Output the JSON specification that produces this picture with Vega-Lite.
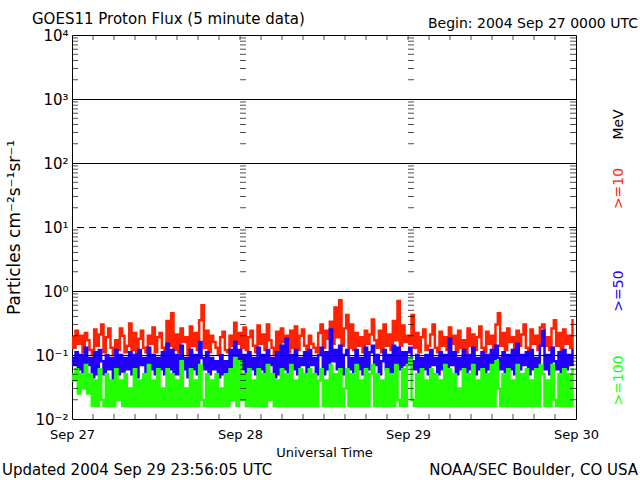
{
  "$schema": "https://vega.github.io/schema/vega-lite/v6.json",
  "width": 504,
  "height": 384,
  "autosize": "none",
  "padding": {"left": 72, "top": 35, "right": 64, "bottom": 61},
  "background": "white",
  "config": {
    "view": {"stroke": "black", "strokeWidth": 1},
    "font": "DejaVu Sans",
    "axis": {"grid": false, "domain": false, "ticks": false, "labelOverlap": false, "labelFlush": false, "titleFontWeight": "normal", "labelColor": "black", "titleColor": "black"},
    "text": {"font": "DejaVu Sans", "fontSize": 15, "color": "black"}
  },
  "datasets": {
    "minor": [
      {"v": 0.02}, {"v": 0.03}, {"v": 0.04}, {"v": 0.05}, {"v": 0.06}, {"v": 0.07}, {"v": 0.08}, {"v": 0.09},
      {"v": 0.2}, {"v": 0.3}, {"v": 0.4}, {"v": 0.5}, {"v": 0.6}, {"v": 0.7}, {"v": 0.8}, {"v": 0.9},
      {"v": 2}, {"v": 3}, {"v": 4}, {"v": 5}, {"v": 6}, {"v": 7}, {"v": 8}, {"v": 9},
      {"v": 20}, {"v": 30}, {"v": 40}, {"v": 50}, {"v": 60}, {"v": 70}, {"v": 80}, {"v": 90},
      {"v": 200}, {"v": 300}, {"v": 400}, {"v": 500}, {"v": 600}, {"v": 700}, {"v": 800}, {"v": 900},
      {"v": 2000}, {"v": 3000}, {"v": 4000}, {"v": 5000}, {"v": 6000}, {"v": 7000}, {"v": 8000}, {"v": 9000}
    ],
    "hours": [
      {"t": "2004-09-27T03:00"}, {"t": "2004-09-27T06:00"}, {"t": "2004-09-27T09:00"}, {"t": "2004-09-27T12:00"},
      {"t": "2004-09-27T15:00"}, {"t": "2004-09-27T18:00"}, {"t": "2004-09-27T21:00"}, {"t": "2004-09-28T00:00"},
      {"t": "2004-09-28T03:00"}, {"t": "2004-09-28T06:00"}, {"t": "2004-09-28T09:00"}, {"t": "2004-09-28T12:00"},
      {"t": "2004-09-28T15:00"}, {"t": "2004-09-28T18:00"}, {"t": "2004-09-28T21:00"}, {"t": "2004-09-29T00:00"},
      {"t": "2004-09-29T03:00"}, {"t": "2004-09-29T06:00"}, {"t": "2004-09-29T09:00"}, {"t": "2004-09-29T12:00"},
      {"t": "2004-09-29T15:00"}, {"t": "2004-09-29T18:00"}, {"t": "2004-09-29T21:00"}
    ]
  },
  "data": {"values": [
    {"t": "2004-09-27T00:00", "a": 0.19, "b": 0.09, "c": 0.05},
    {"t": "2004-09-27T00:20", "a": 0.13, "b": 0.07, "c": 0.04},
    {"t": "2004-09-27T00:40", "a": 0.24, "b": 0.11, "c": 0.06},
    {"t": "2004-09-27T01:00", "a": 0.15, "b": 0.06, "c": 0.025},
    {"t": "2004-09-27T01:20", "a": 0.2, "b": 0.1, "c": 0.05},
    {"t": "2004-09-27T01:40", "a": 0.11, "b": 0.05, "c": 0.03},
    {"t": "2004-09-27T02:00", "a": 0.22, "b": 0.13, "c": 0.07},
    {"t": "2004-09-27T02:20", "a": 0.17, "b": 0.07, "c": 0.025},
    {"t": "2004-09-27T02:40", "a": 0.12, "b": 0.09, "c": 0.05},
    {"t": "2004-09-27T03:00", "a": 0.1, "b": 0.045, "c": 0.016},
    {"t": "2004-09-27T03:20", "a": 0.25, "b": 0.11, "c": 0.04},
    {"t": "2004-09-27T03:40", "a": 0.14, "b": 0.05, "c": 0.016},
    {"t": "2004-09-27T04:00", "a": 0.21, "b": 0.12, "c": 0.06},
    {"t": "2004-09-27T04:20", "a": 0.3, "b": 0.08, "c": 0.02},
    {"t": "2004-09-27T04:40", "a": 0.11, "b": 0.05, "c": 0.016},
    {"t": "2004-09-27T05:00", "a": 0.19, "b": 0.1, "c": 0.05},
    {"t": "2004-09-27T05:20", "a": 0.26, "b": 0.06, "c": 0.016},
    {"t": "2004-09-27T05:40", "a": 0.13, "b": 0.09, "c": 0.04},
    {"t": "2004-09-27T06:00", "a": 0.1, "b": 0.04, "c": 0.016},
    {"t": "2004-09-27T06:20", "a": 0.17, "b": 0.12, "c": 0.06},
    {"t": "2004-09-27T06:40", "a": 0.12, "b": 0.05, "c": 0.02},
    {"t": "2004-09-27T07:00", "a": 0.26, "b": 0.1, "c": 0.04},
    {"t": "2004-09-27T07:20", "a": 0.2, "b": 0.055, "c": 0.016},
    {"t": "2004-09-27T07:40", "a": 0.11, "b": 0.09, "c": 0.05},
    {"t": "2004-09-27T08:00", "a": 0.14, "b": 0.06, "c": 0.016},
    {"t": "2004-09-27T08:20", "a": 0.31, "b": 0.11, "c": 0.03},
    {"t": "2004-09-27T08:40", "a": 0.12, "b": 0.05, "c": 0.016},
    {"t": "2004-09-27T09:00", "a": 0.22, "b": 0.1, "c": 0.06},
    {"t": "2004-09-27T09:20", "a": 0.1, "b": 0.045, "c": 0.016},
    {"t": "2004-09-27T09:40", "a": 0.18, "b": 0.12, "c": 0.04},
    {"t": "2004-09-27T10:00", "a": 0.24, "b": 0.07, "c": 0.016},
    {"t": "2004-09-27T10:20", "a": 0.13, "b": 0.09, "c": 0.05},
    {"t": "2004-09-27T10:40", "a": 0.11, "b": 0.05, "c": 0.016},
    {"t": "2004-09-27T11:00", "a": 0.2, "b": 0.13, "c": 0.07},
    {"t": "2004-09-27T11:20", "a": 0.15, "b": 0.06, "c": 0.016},
    {"t": "2004-09-27T11:40", "a": 0.27, "b": 0.1, "c": 0.04},
    {"t": "2004-09-27T12:00", "a": 0.11, "b": 0.05, "c": 0.016},
    {"t": "2004-09-27T12:20", "a": 0.19, "b": 0.09, "c": 0.06},
    {"t": "2004-09-27T12:40", "a": 0.22, "b": 0.06, "c": 0.016},
    {"t": "2004-09-27T13:00", "a": 0.13, "b": 0.11, "c": 0.03},
    {"t": "2004-09-27T13:20", "a": 0.12, "b": 0.05, "c": 0.016},
    {"t": "2004-09-27T13:40", "a": 0.34, "b": 0.15, "c": 0.06},
    {"t": "2004-09-27T14:00", "a": 0.14, "b": 0.06, "c": 0.016},
    {"t": "2004-09-27T14:20", "a": 0.45, "b": 0.12, "c": 0.05},
    {"t": "2004-09-27T14:40", "a": 0.12, "b": 0.05, "c": 0.016},
    {"t": "2004-09-27T15:00", "a": 0.21, "b": 0.1, "c": 0.04},
    {"t": "2004-09-27T15:20", "a": 0.11, "b": 0.05, "c": 0.016},
    {"t": "2004-09-27T15:40", "a": 0.26, "b": 0.14, "c": 0.08},
    {"t": "2004-09-27T16:00", "a": 0.16, "b": 0.06, "c": 0.016},
    {"t": "2004-09-27T16:20", "a": 0.19, "b": 0.09, "c": 0.03},
    {"t": "2004-09-27T16:40", "a": 0.1, "b": 0.045, "c": 0.016},
    {"t": "2004-09-27T17:00", "a": 0.28, "b": 0.12, "c": 0.06},
    {"t": "2004-09-27T17:20", "a": 0.14, "b": 0.06, "c": 0.016},
    {"t": "2004-09-27T17:40", "a": 0.22, "b": 0.1, "c": 0.04},
    {"t": "2004-09-27T18:00", "a": 0.12, "b": 0.05, "c": 0.016},
    {"t": "2004-09-27T18:20", "a": 0.35, "b": 0.16, "c": 0.07},
    {"t": "2004-09-27T18:40", "a": 0.6, "b": 0.09, "c": 0.02},
    {"t": "2004-09-27T19:00", "a": 0.13, "b": 0.06, "c": 0.016},
    {"t": "2004-09-27T19:20", "a": 0.24, "b": 0.11, "c": 0.05},
    {"t": "2004-09-27T19:40", "a": 0.11, "b": 0.05, "c": 0.016},
    {"t": "2004-09-27T20:00", "a": 0.2, "b": 0.09, "c": 0.04},
    {"t": "2004-09-27T20:20", "a": 0.16, "b": 0.06, "c": 0.016},
    {"t": "2004-09-27T20:40", "a": 0.13, "b": 0.08, "c": 0.05},
    {"t": "2004-09-27T21:00", "a": 0.1, "b": 0.045, "c": 0.016},
    {"t": "2004-09-27T21:20", "a": 0.19, "b": 0.1, "c": 0.03},
    {"t": "2004-09-27T21:40", "a": 0.23, "b": 0.05, "c": 0.016},
    {"t": "2004-09-27T22:00", "a": 0.12, "b": 0.08, "c": 0.05},
    {"t": "2004-09-27T22:20", "a": 0.11, "b": 0.05, "c": 0.016},
    {"t": "2004-09-27T22:40", "a": 0.2, "b": 0.12, "c": 0.06},
    {"t": "2004-09-27T23:00", "a": 0.14, "b": 0.06, "c": 0.02},
    {"t": "2004-09-27T23:20", "a": 0.32, "b": 0.16, "c": 0.09},
    {"t": "2004-09-27T23:40", "a": 0.15, "b": 0.07, "c": 0.016},
    {"t": "2004-09-28T00:00", "a": 0.22, "b": 0.12, "c": 0.08},
    {"t": "2004-09-28T00:20", "a": 0.13, "b": 0.06, "c": 0.02},
    {"t": "2004-09-28T00:40", "a": 0.27, "b": 0.1, "c": 0.05},
    {"t": "2004-09-28T01:00", "a": 0.12, "b": 0.05, "c": 0.016},
    {"t": "2004-09-28T01:20", "a": 0.19, "b": 0.11, "c": 0.06},
    {"t": "2004-09-28T01:40", "a": 0.24, "b": 0.06, "c": 0.016},
    {"t": "2004-09-28T02:00", "a": 0.14, "b": 0.09, "c": 0.04},
    {"t": "2004-09-28T02:20", "a": 0.11, "b": 0.05, "c": 0.016},
    {"t": "2004-09-28T02:40", "a": 0.29, "b": 0.13, "c": 0.06},
    {"t": "2004-09-28T03:00", "a": 0.15, "b": 0.06, "c": 0.016},
    {"t": "2004-09-28T03:20", "a": 0.21, "b": 0.1, "c": 0.05},
    {"t": "2004-09-28T03:40", "a": 0.12, "b": 0.05, "c": 0.016},
    {"t": "2004-09-28T04:00", "a": 0.3, "b": 0.12, "c": 0.07},
    {"t": "2004-09-28T04:20", "a": 0.17, "b": 0.07, "c": 0.02},
    {"t": "2004-09-28T04:40", "a": 0.13, "b": 0.09, "c": 0.05},
    {"t": "2004-09-28T05:00", "a": 0.1, "b": 0.045, "c": 0.016},
    {"t": "2004-09-28T05:20", "a": 0.23, "b": 0.11, "c": 0.04},
    {"t": "2004-09-28T05:40", "a": 0.12, "b": 0.05, "c": 0.016},
    {"t": "2004-09-28T06:00", "a": 0.26, "b": 0.14, "c": 0.06},
    {"t": "2004-09-28T06:20", "a": 0.16, "b": 0.06, "c": 0.016},
    {"t": "2004-09-28T06:40", "a": 0.2, "b": 0.18, "c": 0.05},
    {"t": "2004-09-28T07:00", "a": 0.11, "b": 0.05, "c": 0.016},
    {"t": "2004-09-28T07:20", "a": 0.24, "b": 0.1, "c": 0.07},
    {"t": "2004-09-28T07:40", "a": 0.13, "b": 0.06, "c": 0.016},
    {"t": "2004-09-28T08:00", "a": 0.28, "b": 0.12, "c": 0.04},
    {"t": "2004-09-28T08:20", "a": 0.12, "b": 0.05, "c": 0.016},
    {"t": "2004-09-28T08:40", "a": 0.2, "b": 0.09, "c": 0.06},
    {"t": "2004-09-28T09:00", "a": 0.25, "b": 0.07, "c": 0.016},
    {"t": "2004-09-28T09:20", "a": 0.14, "b": 0.11, "c": 0.05},
    {"t": "2004-09-28T09:40", "a": 0.11, "b": 0.05, "c": 0.016},
    {"t": "2004-09-28T10:00", "a": 0.2, "b": 0.12, "c": 0.06},
    {"t": "2004-09-28T10:20", "a": 0.15, "b": 0.07, "c": 0.016},
    {"t": "2004-09-28T10:40", "a": 0.13, "b": 0.09, "c": 0.05},
    {"t": "2004-09-28T11:00", "a": 0.11, "b": 0.05, "c": 0.016},
    {"t": "2004-09-28T11:20", "a": 0.22, "b": 0.1, "c": 0.04},
    {"t": "2004-09-28T11:40", "a": 0.3, "b": 0.13, "c": 0.06},
    {"t": "2004-09-28T12:00", "a": 0.13, "b": 0.05, "c": 0.016},
    {"t": "2004-09-28T12:20", "a": 0.24, "b": 0.11, "c": 0.04},
    {"t": "2004-09-28T12:40", "a": 0.18, "b": 0.06, "c": 0.016},
    {"t": "2004-09-28T13:00", "a": 0.33, "b": 0.25, "c": 0.07},
    {"t": "2004-09-28T13:20", "a": 0.15, "b": 0.08, "c": 0.016},
    {"t": "2004-09-28T13:40", "a": 0.55, "b": 0.12, "c": 0.05},
    {"t": "2004-09-28T14:00", "a": 0.19, "b": 0.06, "c": 0.016},
    {"t": "2004-09-28T14:20", "a": 0.72, "b": 0.14, "c": 0.06},
    {"t": "2004-09-28T14:40", "a": 0.14, "b": 0.05, "c": 0.016},
    {"t": "2004-09-28T15:00", "a": 0.26, "b": 0.1, "c": 0.03},
    {"t": "2004-09-28T15:20", "a": 0.42, "b": 0.12, "c": 0.06},
    {"t": "2004-09-28T15:40", "a": 0.13, "b": 0.06, "c": 0.016},
    {"t": "2004-09-28T16:00", "a": 0.3, "b": 0.09, "c": 0.05},
    {"t": "2004-09-28T16:20", "a": 0.12, "b": 0.05, "c": 0.016},
    {"t": "2004-09-28T16:40", "a": 0.22, "b": 0.12, "c": 0.07},
    {"t": "2004-09-28T17:00", "a": 0.14, "b": 0.06, "c": 0.016},
    {"t": "2004-09-28T17:20", "a": 0.19, "b": 0.09, "c": 0.04},
    {"t": "2004-09-28T17:40", "a": 0.11, "b": 0.05, "c": 0.016},
    {"t": "2004-09-28T18:00", "a": 0.24, "b": 0.13, "c": 0.06},
    {"t": "2004-09-28T18:20", "a": 0.15, "b": 0.06, "c": 0.016},
    {"t": "2004-09-28T18:40", "a": 0.21, "b": 0.11, "c": 0.05},
    {"t": "2004-09-28T19:00", "a": 0.36, "b": 0.14, "c": 0.07},
    {"t": "2004-09-28T19:20", "a": 0.17, "b": 0.07, "c": 0.016},
    {"t": "2004-09-28T19:40", "a": 0.13, "b": 0.1, "c": 0.05},
    {"t": "2004-09-28T20:00", "a": 0.24, "b": 0.05, "c": 0.016},
    {"t": "2004-09-28T20:20", "a": 0.11, "b": 0.08, "c": 0.04},
    {"t": "2004-09-28T20:40", "a": 0.3, "b": 0.12, "c": 0.016},
    {"t": "2004-09-28T21:00", "a": 0.14, "b": 0.06, "c": 0.06},
    {"t": "2004-09-28T21:20", "a": 0.21, "b": 0.1, "c": 0.016},
    {"t": "2004-09-28T21:40", "a": 0.12, "b": 0.05, "c": 0.05},
    {"t": "2004-09-28T22:00", "a": 0.34, "b": 0.14, "c": 0.016},
    {"t": "2004-09-28T22:20", "a": 0.17, "b": 0.07, "c": 0.07},
    {"t": "2004-09-28T22:40", "a": 0.7, "b": 0.13, "c": 0.02},
    {"t": "2004-09-28T23:00", "a": 0.14, "b": 0.06, "c": 0.016},
    {"t": "2004-09-28T23:20", "a": 0.29, "b": 0.11, "c": 0.06},
    {"t": "2004-09-28T23:40", "a": 0.16, "b": 0.07, "c": 0.016},
    {"t": "2004-09-29T00:00", "a": 0.2, "b": 0.11, "c": 0.07},
    {"t": "2004-09-29T00:20", "a": 0.15, "b": 0.13, "c": 0.09},
    {"t": "2004-09-29T00:40", "a": 0.42, "b": 0.08, "c": 0.02},
    {"t": "2004-09-29T01:00", "a": 0.13, "b": 0.06, "c": 0.016},
    {"t": "2004-09-29T01:20", "a": 0.22, "b": 0.1, "c": 0.05},
    {"t": "2004-09-29T01:40", "a": 0.11, "b": 0.05, "c": 0.016},
    {"t": "2004-09-29T02:00", "a": 0.19, "b": 0.09, "c": 0.06},
    {"t": "2004-09-29T02:20", "a": 0.25, "b": 0.06, "c": 0.016},
    {"t": "2004-09-29T02:40", "a": 0.12, "b": 0.1, "c": 0.04},
    {"t": "2004-09-29T03:00", "a": 0.14, "b": 0.05, "c": 0.016},
    {"t": "2004-09-29T03:20", "a": 0.21, "b": 0.12, "c": 0.06},
    {"t": "2004-09-29T03:40", "a": 0.3, "b": 0.07, "c": 0.016},
    {"t": "2004-09-29T04:00", "a": 0.13, "b": 0.09, "c": 0.05},
    {"t": "2004-09-29T04:20", "a": 0.11, "b": 0.05, "c": 0.016},
    {"t": "2004-09-29T04:40", "a": 0.23, "b": 0.11, "c": 0.04},
    {"t": "2004-09-29T05:00", "a": 0.14, "b": 0.06, "c": 0.016},
    {"t": "2004-09-29T05:20", "a": 0.19, "b": 0.1, "c": 0.07},
    {"t": "2004-09-29T05:40", "a": 0.12, "b": 0.05, "c": 0.016},
    {"t": "2004-09-29T06:00", "a": 0.27, "b": 0.18, "c": 0.06},
    {"t": "2004-09-29T06:20", "a": 0.15, "b": 0.07, "c": 0.016},
    {"t": "2004-09-29T06:40", "a": 0.2, "b": 0.11, "c": 0.05},
    {"t": "2004-09-29T07:00", "a": 0.11, "b": 0.05, "c": 0.016},
    {"t": "2004-09-29T07:20", "a": 0.24, "b": 0.09, "c": 0.03},
    {"t": "2004-09-29T07:40", "a": 0.13, "b": 0.06, "c": 0.016},
    {"t": "2004-09-29T08:00", "a": 0.17, "b": 0.12, "c": 0.06},
    {"t": "2004-09-29T08:20", "a": 0.1, "b": 0.045, "c": 0.016},
    {"t": "2004-09-29T08:40", "a": 0.26, "b": 0.1, "c": 0.05},
    {"t": "2004-09-29T09:00", "a": 0.14, "b": 0.06, "c": 0.016},
    {"t": "2004-09-29T09:20", "a": 0.21, "b": 0.13, "c": 0.07},
    {"t": "2004-09-29T09:40", "a": 0.12, "b": 0.05, "c": 0.016},
    {"t": "2004-09-29T10:00", "a": 0.19, "b": 0.09, "c": 0.04},
    {"t": "2004-09-29T10:20", "a": 0.28, "b": 0.06, "c": 0.016},
    {"t": "2004-09-29T10:40", "a": 0.13, "b": 0.11, "c": 0.06},
    {"t": "2004-09-29T11:00", "a": 0.11, "b": 0.05, "c": 0.016},
    {"t": "2004-09-29T11:20", "a": 0.23, "b": 0.1, "c": 0.05},
    {"t": "2004-09-29T11:40", "a": 0.15, "b": 0.06, "c": 0.016},
    {"t": "2004-09-29T12:00", "a": 0.2, "b": 0.12, "c": 0.07},
    {"t": "2004-09-29T12:20", "a": 0.12, "b": 0.05, "c": 0.016},
    {"t": "2004-09-29T12:40", "a": 0.3, "b": 0.14, "c": 0.08},
    {"t": "2004-09-29T13:00", "a": 0.45, "b": 0.09, "c": 0.03},
    {"t": "2004-09-29T13:20", "a": 0.14, "b": 0.06, "c": 0.016},
    {"t": "2004-09-29T13:40", "a": 0.22, "b": 0.11, "c": 0.05},
    {"t": "2004-09-29T14:00", "a": 0.12, "b": 0.05, "c": 0.016},
    {"t": "2004-09-29T14:20", "a": 0.26, "b": 0.1, "c": 0.06},
    {"t": "2004-09-29T14:40", "a": 0.16, "b": 0.06, "c": 0.016},
    {"t": "2004-09-29T15:00", "a": 0.19, "b": 0.12, "c": 0.04},
    {"t": "2004-09-29T15:20", "a": 0.11, "b": 0.05, "c": 0.016},
    {"t": "2004-09-29T15:40", "a": 0.24, "b": 0.15, "c": 0.07},
    {"t": "2004-09-29T16:00", "a": 0.14, "b": 0.06, "c": 0.016},
    {"t": "2004-09-29T16:20", "a": 0.21, "b": 0.1, "c": 0.05},
    {"t": "2004-09-29T16:40", "a": 0.3, "b": 0.07, "c": 0.016},
    {"t": "2004-09-29T17:00", "a": 0.13, "b": 0.11, "c": 0.06},
    {"t": "2004-09-29T17:20", "a": 0.11, "b": 0.05, "c": 0.016},
    {"t": "2004-09-29T17:40", "a": 0.25, "b": 0.12, "c": 0.04},
    {"t": "2004-09-29T18:00", "a": 0.15, "b": 0.06, "c": 0.016},
    {"t": "2004-09-29T18:20", "a": 0.2, "b": 0.09, "c": 0.06},
    {"t": "2004-09-29T18:40", "a": 0.12, "b": 0.05, "c": 0.016},
    {"t": "2004-09-29T19:00", "a": 0.27, "b": 0.14, "c": 0.07},
    {"t": "2004-09-29T19:20", "a": 0.3, "b": 0.24, "c": 0.05},
    {"t": "2004-09-29T19:40", "a": 0.14, "b": 0.06, "c": 0.016},
    {"t": "2004-09-29T20:00", "a": 0.19, "b": 0.1, "c": 0.04},
    {"t": "2004-09-29T20:20", "a": 0.12, "b": 0.05, "c": 0.016},
    {"t": "2004-09-29T20:40", "a": 0.26, "b": 0.13, "c": 0.07},
    {"t": "2004-09-29T21:00", "a": 0.35, "b": 0.08, "c": 0.02},
    {"t": "2004-09-29T21:20", "a": 0.14, "b": 0.06, "c": 0.016},
    {"t": "2004-09-29T21:40", "a": 0.22, "b": 0.11, "c": 0.05},
    {"t": "2004-09-29T22:00", "a": 0.12, "b": 0.05, "c": 0.016},
    {"t": "2004-09-29T22:20", "a": 0.25, "b": 0.12, "c": 0.06},
    {"t": "2004-09-29T22:40", "a": 0.15, "b": 0.06, "c": 0.016},
    {"t": "2004-09-29T23:00", "a": 0.2, "b": 0.1, "c": 0.05},
    {"t": "2004-09-29T23:20", "a": 0.13, "b": 0.07, "c": 0.016},
    {"t": "2004-09-29T23:40", "a": 0.35, "b": 0.12, "c": 0.06}
  ]},
  "layer": [
    {
      "mark": {"type": "line", "color": "#ff2200", "strokeWidth": 2.5, "interpolate": "step"},
      "encoding": {
        "x": {
          "field": "t",
          "type": "temporal",
          "scale": {"domain": [{"year": 2004, "month": 9, "date": 27}, {"year": 2004, "month": 9, "date": 30}]},
          "axis": {
            "values": [
              {"year": 2004, "month": 9, "date": 27},
              {"year": 2004, "month": 9, "date": 28},
              {"year": 2004, "month": 9, "date": 29},
              {"year": 2004, "month": 9, "date": 30}
            ],
            "format": "%b %d",
            "labelPadding": 9,
            "labelFontSize": 13,
            "labelBaseline": "top",
            "title": "Universal Time",
            "titleFontSize": 13,
            "titleX": 252,
            "titleY": 37,
            "titleAlign": "center",
            "titleBaseline": "alphabetic"
          }
        },
        "y": {
          "field": "a",
          "type": "quantitative",
          "scale": {"type": "log", "domain": [0.01, 10000]},
          "axis": {
            "values": [0.01, 0.1, 1, 10, 100, 1000, 10000],
            "labelPadding": 4,
            "labelFontSize": 15,
            "labelExpr": "datum.value == 10000 ? '10⁴' : datum.value == 1000 ? '10³' : datum.value == 100 ? '10²' : datum.value == 10 ? '10¹' : datum.value == 1 ? '10⁰' : datum.value == 0.1 ? '10⁻¹' : '10⁻²'",
            "title": "Particles cm⁻²s⁻¹sr⁻¹",
            "titleFontSize": 17,
            "titleAngle": 270,
            "titleX": -58,
            "titleY": 192,
            "titleAlign": "center",
            "titleBaseline": "middle"
          }
        }
      }
    },
    {
      "mark": {"type": "line", "color": "#2200ff", "strokeWidth": 2.5, "interpolate": "step"},
      "encoding": {
        "x": {"field": "t", "type": "temporal"},
        "y": {"field": "b", "type": "quantitative", "scale": {"type": "log"}}
      }
    },
    {
      "mark": {"type": "line", "color": "#22ff00", "strokeWidth": 2.5, "interpolate": "step"},
      "encoding": {
        "x": {"field": "t", "type": "temporal"},
        "y": {"field": "c", "type": "quantitative", "scale": {"type": "log"}}
      }
    },
    {
      "data": {"values": [{"v": 1000}, {"v": 100}, {"v": 1}, {"v": 0.1}]},
      "mark": {"type": "rule", "color": "black", "strokeWidth": 1, "yOffset": 0.5},
      "encoding": {
        "y": {"field": "v", "type": "quantitative", "scale": {"type": "log"}}
      }
    },
    {
      "data": {"values": [{"v": 10}]},
      "mark": {"type": "rule", "color": "black", "strokeWidth": 1, "yOffset": 0.5, "strokeDash": [7, 5]},
      "encoding": {
        "y": {"field": "v", "type": "quantitative", "scale": {"type": "log"}}
      }
    },
    {
      "data": {"name": "minor"},
      "mark": {"type": "tick", "orient": "horizontal", "color": "black", "size": 6, "thickness": 1, "xOffset": 3},
      "encoding": {
        "x": {"datum": {"year": 2004, "month": 9, "date": 27}, "type": "temporal"},
        "y": {"field": "v", "type": "quantitative", "scale": {"type": "log"}}
      }
    },
    {
      "data": {"name": "minor"},
      "mark": {"type": "tick", "orient": "horizontal", "color": "black", "size": 6, "thickness": 1, "xOffset": 3},
      "encoding": {
        "x": {"datum": {"year": 2004, "month": 9, "date": 28}, "type": "temporal"},
        "y": {"field": "v", "type": "quantitative", "scale": {"type": "log"}}
      }
    },
    {
      "data": {"name": "minor"},
      "mark": {"type": "tick", "orient": "horizontal", "color": "black", "size": 6, "thickness": 1, "xOffset": 3},
      "encoding": {
        "x": {"datum": {"year": 2004, "month": 9, "date": 29}, "type": "temporal"},
        "y": {"field": "v", "type": "quantitative", "scale": {"type": "log"}}
      }
    },
    {
      "data": {"name": "minor"},
      "mark": {"type": "tick", "orient": "horizontal", "color": "black", "size": 6, "thickness": 1, "xOffset": -3},
      "encoding": {
        "x": {"datum": {"year": 2004, "month": 9, "date": 30}, "type": "temporal"},
        "y": {"field": "v", "type": "quantitative", "scale": {"type": "log"}}
      }
    },
    {
      "data": {"name": "hours"},
      "mark": {"type": "tick", "orient": "vertical", "color": "black", "size": 5, "thickness": 1, "yOffset": -2.5},
      "encoding": {
        "x": {"field": "t", "type": "temporal"},
        "y": {"datum": 0.01, "type": "quantitative", "scale": {"type": "log"}}
      }
    },
    {
      "data": {"name": "hours"},
      "mark": {"type": "tick", "orient": "vertical", "color": "black", "size": 5, "thickness": 1, "yOffset": 2.5},
      "encoding": {
        "x": {"field": "t", "type": "temporal"},
        "y": {"datum": 10000, "type": "quantitative", "scale": {"type": "log"}}
      }
    },
    {
      "data": {"values": [
        {"s": "MeV", "v": 400},
        {"s": ">=10", "v": 40},
        {"s": ">=50", "v": 1},
        {"s": ">=100", "v": 0.04}
      ]},
      "mark": {"type": "text", "angle": 270, "align": "center", "baseline": "middle", "fontSize": 14, "dy": 43},
      "encoding": {
        "x": {"datum": {"year": 2004, "month": 9, "date": 30}, "type": "temporal"},
        "y": {"field": "v", "type": "quantitative", "scale": {"type": "log"}},
        "text": {"field": "s"},
        "color": {
          "field": "s",
          "type": "nominal",
          "scale": {"domain": ["MeV", ">=10", ">=50", ">=100"], "range": ["black", "#ff2200", "#2200ff", "#22ff00"]},
          "legend": null
        }
      }
    },
    {
      "data": {"values": [{"s": "GOES11 Proton Flux (5 minute data)"}]},
      "mark": {"type": "text", "align": "left", "baseline": "alphabetic", "dx": -40, "dy": -11},
      "encoding": {
        "x": {"datum": {"year": 2004, "month": 9, "date": 27}, "type": "temporal"},
        "y": {"datum": 10000, "type": "quantitative", "scale": {"type": "log"}},
        "text": {"field": "s"}
      }
    },
    {
      "data": {"values": [{"s": "Begin: 2004 Sep 27 0000 UTC"}]},
      "mark": {"type": "text", "align": "right", "baseline": "alphabetic", "fontSize": 14, "dx": 62, "dy": -7},
      "encoding": {
        "x": {"datum": {"year": 2004, "month": 9, "date": 30}, "type": "temporal"},
        "y": {"datum": 10000, "type": "quantitative", "scale": {"type": "log"}},
        "text": {"field": "s"}
      }
    },
    {
      "data": {"values": [{"s": "Updated 2004 Sep 29 23:56:05 UTC"}]},
      "mark": {"type": "text", "align": "left", "baseline": "alphabetic", "dx": -70, "dy": 56},
      "encoding": {
        "x": {"datum": {"year": 2004, "month": 9, "date": 27}, "type": "temporal"},
        "y": {"datum": 0.01, "type": "quantitative", "scale": {"type": "log"}},
        "text": {"field": "s"}
      }
    },
    {
      "data": {"values": [{"s": "NOAA/SEC Boulder, CO USA"}]},
      "mark": {"type": "text", "align": "right", "baseline": "alphabetic", "dx": 62, "dy": 56},
      "encoding": {
        "x": {"datum": {"year": 2004, "month": 9, "date": 30}, "type": "temporal"},
        "y": {"datum": 0.01, "type": "quantitative", "scale": {"type": "log"}},
        "text": {"field": "s"}
      }
    }
  ]
}
